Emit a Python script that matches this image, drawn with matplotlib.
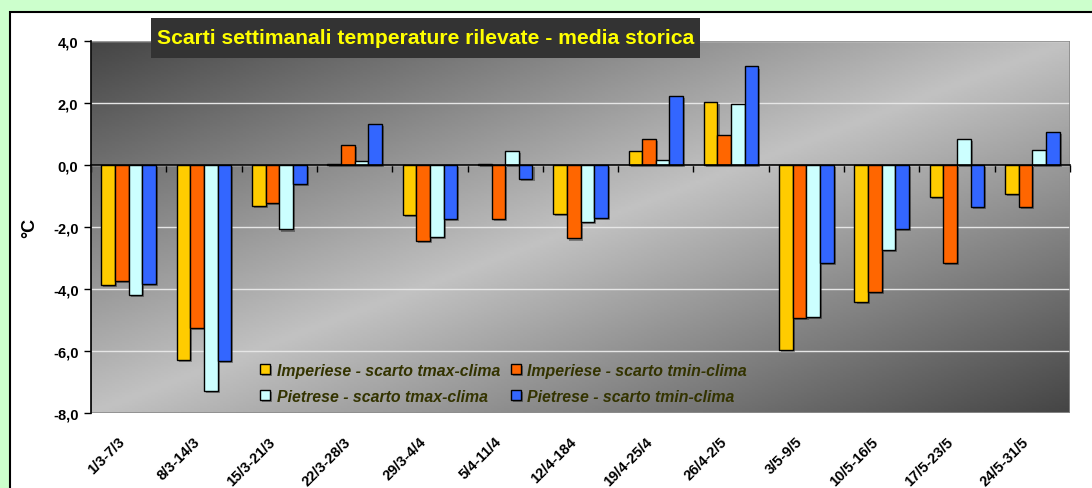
import numpy as np
import matplotlib
matplotlib.use('Agg')
import matplotlib.pyplot as plt
from matplotlib.patches import Rectangle
from matplotlib import patheffects as pe
import matplotlib.transforms as mtransforms

plt.rcParams['font.family'] = ['Liberation Sans', 'DejaVu Sans']

# --- data ---
CATEGORIES = ['1/3-7/3', '8/3-14/3', '15/3-21/3', '22/3-28/3', '29/3-4/4', '5/4-11/4',
              '12/4-184', '19/4-25/4', '26/4-2/5', '3/5-9/5', '10/5-16/5', '17/5-23/5',
              '24/5-31/5']
IMP_TMAX = [-3.86, -6.29, -1.33, 0.02, -1.61, 0.02, -1.59, 0.44, 2.04, -5.98, -4.42, -1.04, -0.94]
IMP_TMIN = [-3.74, -5.26, -1.22, 0.64, -2.44, -1.73, -2.37, 0.84, 0.97, -4.93, -4.09, -3.15, -1.36]
PIE_TMAX = [-4.19, -7.28, -2.08, 0.12, -2.33, 0.44, -1.83, 0.16, 1.96, -4.90, -2.73, 0.83, 0.48]
PIE_TMIN = [-3.83, -6.32, -0.61, 1.32, -1.73, -0.46, -1.70, 2.23, 3.18, -3.15, -2.05, -1.36, 1.06]

SERIES_LABELS = ['Imperiese - scarto tmax-clima', 'Imperiese - scarto tmin-clima',
                 'Pietrese - scarto tmax-clima', 'Pietrese - scarto tmin-clima']
COLORS = ['#FFCC00', '#FF6600', '#CCFFFF', '#3366FF']
Y_TICKS = [-8, -6, -4, -2, 0, 2, 4]
TITLE = 'Scarti settimanali temperature rilevate - media storica'

W, H = 1092, 489


def px(x, y):
    # pixel (from top-left) -> figure fraction
    return x / W, 1 - y / H


def gradient_background(ax):
    u = np.linspace(0, 1, 300)[None, :]
    v = np.linspace(0, 1, 200)[:, None]
    t = (u + v) / 2
    g = 1 - np.abs(2 * t - 1)
    dark, light = 0.27, 0.76
    img = dark + (light - dark) * g
    ax.imshow(img, cmap='gray', vmin=0, vmax=1, extent=(0, 1, 0, 1),
              transform=ax.transAxes, aspect='auto', zorder=0, interpolation='bilinear')


def main():
    fig = plt.figure(figsize=(W / 100, H / 100), dpi=100, facecolor='#CCFFCC')

    # white chart box with black border
    x0, y0 = px(10, 13)
    fig.add_artist(Rectangle((x0, -0.1), 1.2, y0 + 0.1, transform=fig.transFigure,
                             facecolor='white', edgecolor='black', linewidth=1.5, zorder=-1))

    left, top = px(91, 42)
    right, bottom = px(1070, 414)
    ax = fig.add_axes([left, bottom, right - left, top - bottom])
    ax.set_facecolor('none')
    gradient_background(ax)

    x = np.arange(len(CATEGORIES))
    width = 0.181
    shadow = [pe.SimplePatchShadow(offset=(1.5, -1.5), shadow_rgbFace='black', alpha=0.35), pe.Normal()]
    bars = []
    for idx, (vals, color) in enumerate(zip([IMP_TMAX, IMP_TMIN, PIE_TMAX, PIE_TMIN], COLORS)):
        b = ax.bar(x + (idx - 1.5) * width, vals, width, color=color, edgecolor='black',
                   linewidth=1.0, zorder=3, label=SERIES_LABELS[idx])
        for p in b:
            p.set_path_effects(shadow)
        bars.append(b)

    ax.set_xlim(-0.5, len(CATEGORIES) - 0.5)
    ax.set_ylim(-8, 4)
    ax.set_yticks(Y_TICKS)
    ax.set_yticklabels([f'{v:.1f}'.replace('.', ',') for v in Y_TICKS],
                       fontsize=10.5, fontweight='bold')
    ax.tick_params(axis='y', direction='out', length=5, width=1, pad=4)
    ax.grid(axis='y', color='#E6E6E6', linewidth=1.0, zorder=1)
    ax.set_axisbelow(True)

    # category axis crosses at 0, ticks between groups
    ax.spines['bottom'].set_position(('data', 0))
    ax.spines['bottom'].set_zorder(4)
    ax.spines['bottom'].set_linewidth(1.2)
    ax.set_xticks(np.arange(-0.5, len(CATEGORIES), 1.0))
    ax.tick_params(axis='x', direction='out', length=5, width=1, labelbottom=False)
    ax.spines['left'].set_linewidth(1.2)
    ax.spines['top'].set_visible(False)
    ax.spines['right'].set_visible(False)
    ax.add_patch(Rectangle((0, 0), 1, 1, transform=ax.transAxes, fill=False,
                           edgecolor='#8A8A8A', linewidth=1.2, zorder=2))

    trans = mtransforms.blended_transform_factory(ax.transData, ax.transAxes)
    for i, lab in enumerate(CATEGORIES):
        ax.text(i - 0.08, -0.07, lab, transform=trans, rotation=45, ha='right', va='center',
                rotation_mode='anchor', fontsize=10.5, fontweight='bold')

    ax.set_ylabel('°C', fontsize=13, fontweight='bold')
    ax.yaxis.set_label_coords(-0.054, 0.5)

    # legend: row order Imperiese / Pietrese
    handles = [bars[0], bars[2], bars[1], bars[3]]
    labels = [SERIES_LABELS[0], SERIES_LABELS[2], SERIES_LABELS[1], SERIES_LABELS[3]]
    ax.legend(handles, labels, ncol=2, loc='upper left', bbox_to_anchor=(0.1665, 0.152),
              frameon=False, handlelength=0.63, handleheight=0.63, handletextpad=0.4,
              columnspacing=0.7, labelspacing=0.68, borderaxespad=0, labelcolor='#333300',
              prop={'size': 11.4, 'weight': 'bold', 'style': 'italic'})

    # title box
    tx0, ty0 = px(151, 59)
    tx1, ty1 = px(700, 19)
    fig.add_artist(Rectangle((tx0, ty0), tx1 - tx0, ty1 - ty0, transform=fig.transFigure,
                             facecolor='#333333', edgecolor='none', zorder=5))
    fig.text((tx0 + tx1) / 2, (ty0 + ty1) / 2, TITLE, color='#FFFF00', fontsize=15.2,
             fontweight='bold', ha='center', va='center', zorder=6)

    fig.savefig('out.png', dpi=100, facecolor=fig.get_facecolor())


if __name__ == '__main__':
    main()
